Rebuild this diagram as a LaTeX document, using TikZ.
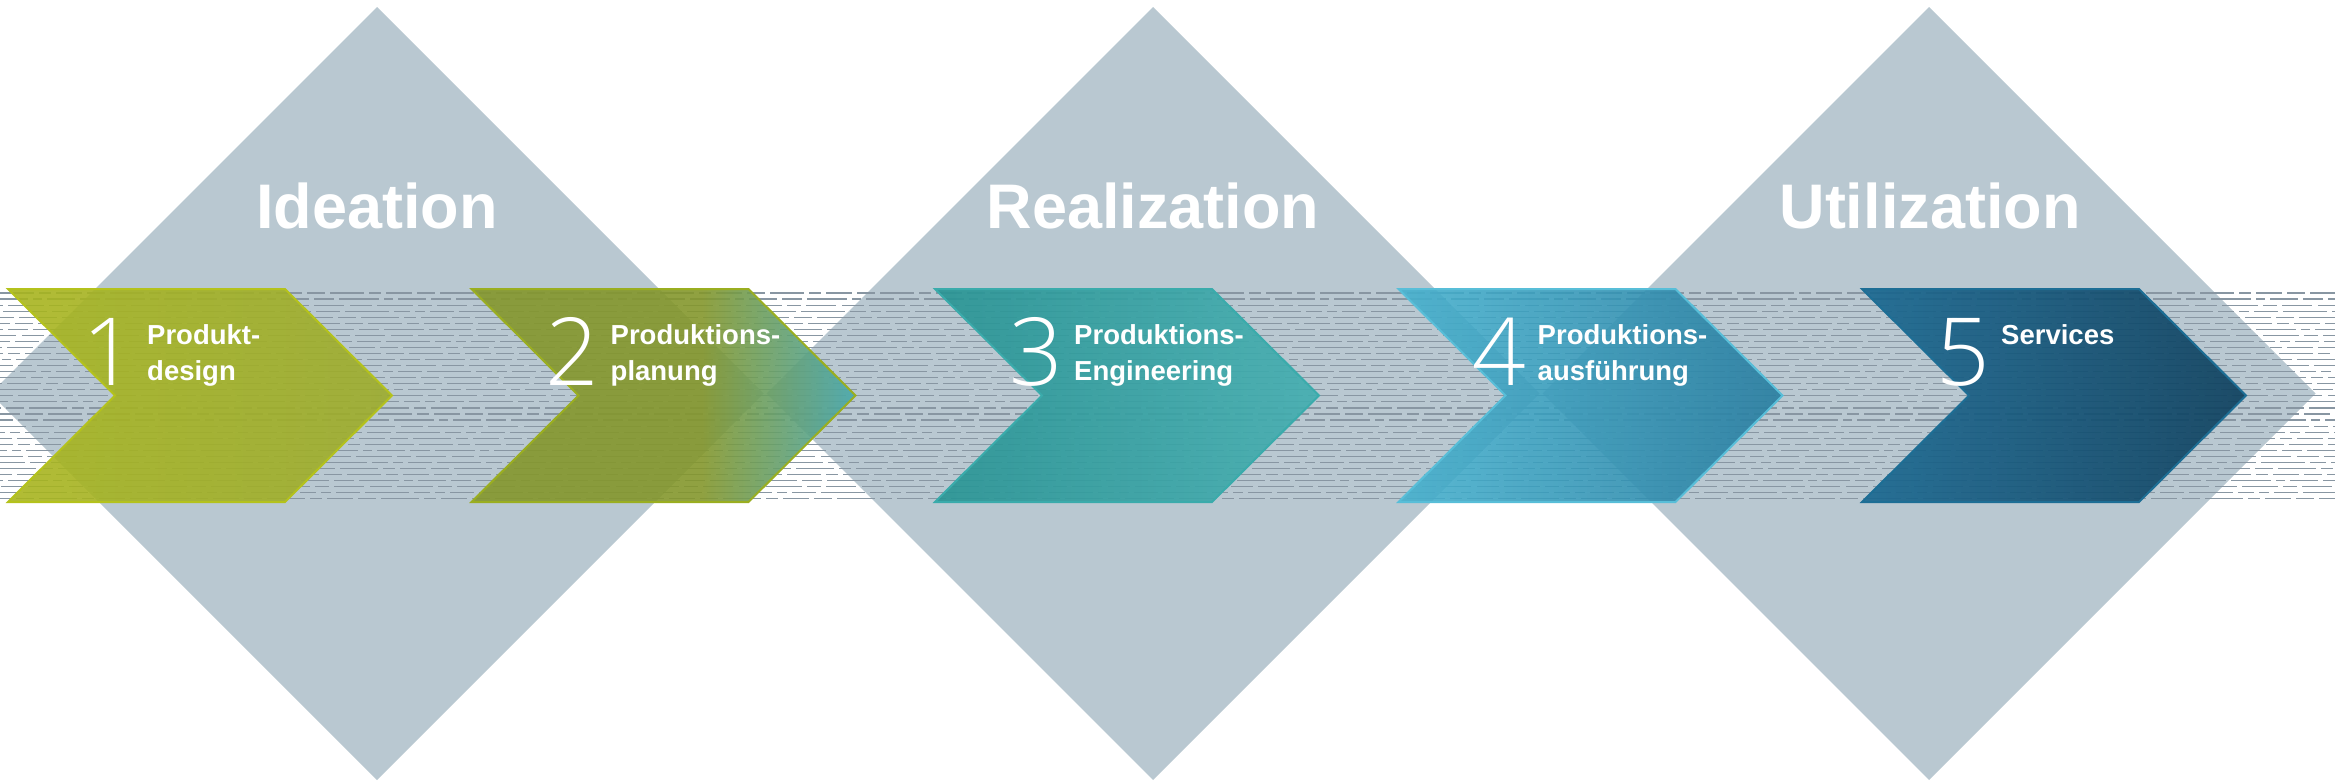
\documentclass[tikz,border=0pt]{standalone}
\usepackage{fontspec}
\setmainfont{Liberation Sans}
\IfFontExistsTF{Open Sans Light}{\newfontfamily\digitfont{Open Sans Light}}{\newfontfamily\digitfont{Open Sans}}
\definecolor{dia}{HTML}{B9C8D1}
\definecolor{dashc}{HTML}{8896A2}
\definecolor{c1L}{HTML}{A8B51E}
\definecolor{c1R}{HTML}{9DAC2C}
\definecolor{c2L}{HTML}{84972C}
\definecolor{c2R}{HTML}{48A8AC}
\definecolor{c3L}{HTML}{269393}
\definecolor{c3R}{HTML}{42AEB0}
\definecolor{c4L}{HTML}{46B1CE}
\definecolor{c4R}{HTML}{277DA0}
\definecolor{c5L}{HTML}{186790}
\definecolor{c5R}{HTML}{0C3E5C}
\definecolor{b1}{HTML}{B4C21C}
\definecolor{b2}{HTML}{9AAE20}
\definecolor{b3}{HTML}{3AABAB}
\definecolor{b4}{HTML}{58BED8}
\definecolor{b5}{HTML}{1D6E95}
\pgfdeclarehorizontalshading{shB}{100bp}{color(0bp)=(c2L); color(25bp)=(c2L); color(55bp)=(c2L); color(75bp)=(c2R); color(100bp)=(c2R)}
\begin{document}
\begin{tikzpicture}[x=1pt,y=-1pt,
  diamondshape/.style={fill=dia},
  dashline/.style={draw=dashc,line width=1.15pt},
  dpat0/.style={dash pattern=on 34pt off 5pt on 12pt off 5pt on 26pt off 5pt on 18pt off 5pt},
  dpat1/.style={dash pattern=on 20pt off 5pt on 40pt off 5pt on 9pt off 5pt on 28pt off 5pt},
  dpat2/.style={dash pattern=on 14pt off 5pt on 30pt off 6pt on 22pt off 5pt on 36pt off 5pt},
  dpat3/.style={dash pattern=on 44pt off 5pt on 16pt off 5pt on 10pt off 5pt on 24pt off 5pt},
  dpat4/.style={dash pattern=on 26pt off 5pt on 18pt off 5pt on 38pt off 5pt on 12pt off 5pt},
  chev/.style={fill opacity=0.9},
  chevborder/.style={line width=2pt,line join=miter},
  title/.style={anchor=base,text=white,inner sep=0pt,font=\fontsize{63}{70}\selectfont\bfseries},
  lbl/.style={anchor=base west,text=white,inner sep=0pt,align=left,font=\fontsize{27.5}{36}\selectfont\bfseries},
  digit/.style={anchor=base east,text=white,inner sep=0pt,font=\fontsize{94}{100}\selectfont\digitfont}]
\useasboundingbox (0,0) rectangle (2335,780);
% diamonds
\foreach \cx in {377,1153,1929}{
  \fill[diamondshape] (\cx,7) -- (\cx+386.5,393.5) -- (\cx,780) -- (\cx-386.5,393.5) -- cycle;
}
% dashed band
\foreach \i in {0,...,34}{
  \pgfmathsetmacro\yy{293+6.05*\i}
  \pgfmathtruncatemacro\k{mod(\i,5)}
  \pgfmathsetmacro\ph{mod(\i*37,113)}
  \draw[dashline,dpat\k,dash phase=\ph pt] (0,\yy) -- (2335,\yy);
}
% chevrons
\def\chevpath#1{(#1,289) -- (#1+277,289) -- (#1+384,395.5) -- (#1+277,502) -- (#1,502) -- (#1+107,395.5) -- cycle}
\shade[chev,left color=c1L,right color=c1R] \chevpath{8};
\draw[chevborder,draw=b1] \chevpath{8};
\shade[chev,shading=shB] \chevpath{471.5};
\draw[chevborder,draw=b2] \chevpath{471.5};
\shade[chev,left color=c3L,right color=c3R] \chevpath{935};
\draw[chevborder,draw=b3] \chevpath{935};
\shade[chev,left color=c4L,right color=c4R] \chevpath{1398.5};
\draw[chevborder,draw=b4] \chevpath{1398.5};
\shade[chev,left color=c5L,right color=c5R] \chevpath{1862};
\draw[chevborder,draw=b5] \chevpath{1862};
% titles
\node[title] (tI) at (377,228) {Ideation};
\node[title] (tR) at (1153,228) {Realization};
\node[title] (tU) at (1930,228) {Utilization};
% digits
\node[digit] (d1) at (8+128,385) {1};
\node[digit] (d2) at (471.5+128,385) {2};
\node[digit] (d3) at (935+128,385) {3};
\node[digit] (d4) at (1398.5+128,385) {4};
\node[digit] (d5) at (1862+128,385) {5};
% labels (anchor base = baseline of last line)
\node[lbl] (l1) at (8+139,380) {Produkt-\\design};
\node[lbl] (l2) at (471.5+139,380) {Produktions-\\planung};
\node[lbl] (l3) at (935+139,380) {Produktions-\\Engineering};
\node[lbl] (l4) at (1398.5+139,380) {Produktions-\\ausführung};
\node[lbl] (l5) at (1862+139,344) {Services};
\end{tikzpicture}
\end{document}
